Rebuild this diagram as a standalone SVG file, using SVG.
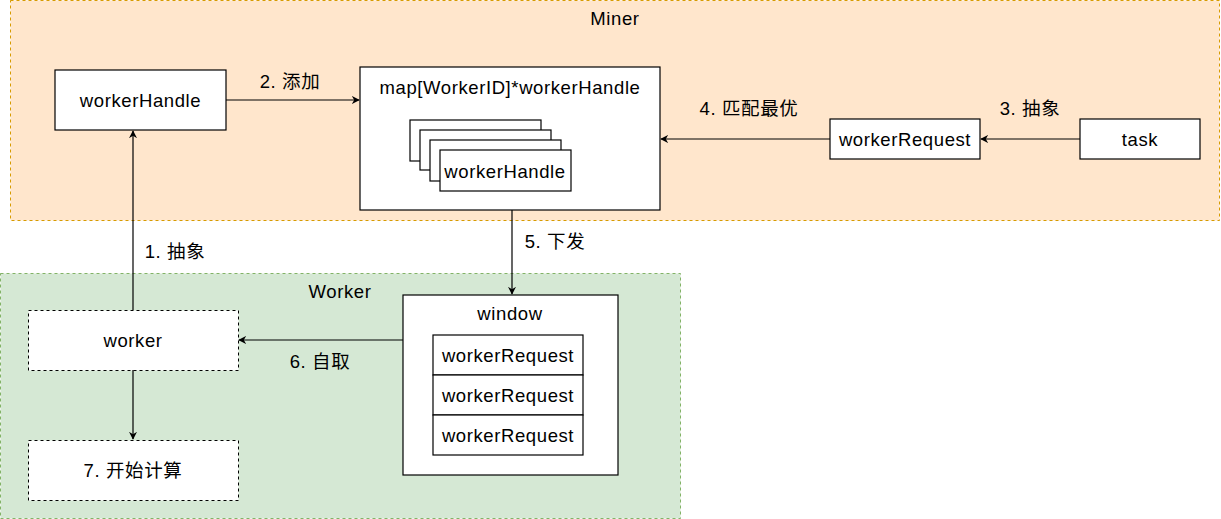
<svg xmlns="http://www.w3.org/2000/svg" width="1221" height="519" viewBox="0 0 1221 519">
<style>
text{font-family:"Liberation Sans","Noto Sans CJK SC",sans-serif;font-size:18.5px;fill:#000;text-anchor:middle;dominant-baseline:central;letter-spacing:0.6px}
.box{fill:#fff;stroke:#000;stroke-width:1.2}
.dbox{fill:#fff;stroke:#000;stroke-width:1;stroke-dasharray:3 3}
.edge{fill:none;stroke:#000;stroke-width:1.2}
</style>
<defs>
<marker id="arr" viewBox="0 0 10 10" refX="9" refY="5" markerWidth="8" markerHeight="8" markerUnits="userSpaceOnUse" orient="auto">
<path d="M0,0 L10,5 L0,10 L3,5 Z" fill="#000"/>
</marker>
</defs>
<g id="miner">
<rect x="10.5" y="0.5" width="1209" height="220" fill="#ffe6cc" stroke="#d79b00" stroke-dasharray="3 3"/>
<text x="615" y="18">Miner</text>
</g>
<g id="worker-group">
<rect x="0.5" y="273.5" width="680" height="245" fill="#d5e8d4" stroke="#82b366" stroke-dasharray="3 3"/>
<text x="340" y="291">Worker</text>
</g>
<g id="workerHandle">
<rect class="box" x="55" y="70" width="171" height="60"/>
<text x="140.5" y="100">workerHandle</text>
</g>
<g id="map">
<rect class="box" x="360" y="67" width="300" height="143"/>
<text x="510" y="87">map[WorkerID]*workerHandle</text>
<rect class="box" x="410" y="120" width="131" height="41"/>
<rect class="box" x="420" y="130" width="131" height="40"/>
<rect class="box" x="430" y="140" width="131" height="41"/>
<rect class="box" x="440" y="150" width="131" height="41"/>
<text x="505" y="171">workerHandle</text>
</g>
<g id="workerRequest">
<rect class="box" x="830" y="119" width="150" height="40"/>
<text x="905" y="139">workerRequest</text>
</g>
<g id="task">
<rect class="box" x="1080" y="119" width="120" height="40"/>
<text x="1140" y="139">task</text>
</g>
<g id="worker">
<rect class="dbox" x="28.5" y="310.5" width="210" height="60"/>
<text x="133" y="340">worker</text>
</g>
<g id="compute">
<rect class="dbox" x="28.5" y="440.5" width="210" height="60"/>
<text x="133" y="470">7. 开始计算</text>
</g>
<g id="window">
<rect class="box" x="403" y="295" width="215" height="180"/>
<text x="510" y="313">window</text>
<rect class="box" x="433" y="335" width="150" height="40"/>
<rect class="box" x="433" y="375" width="150" height="40"/>
<rect class="box" x="433" y="415" width="150" height="40"/>
<text x="508" y="355">workerRequest</text>
<text x="508" y="395">workerRequest</text>
<text x="508" y="435">workerRequest</text>
</g>
<g id="connectors">
<path class="edge" d="M226,100 H359" marker-end="url(#arr)"/>
<text x="290" y="81">2. 添加</text>
<path class="edge" d="M1080,139 H981" marker-end="url(#arr)"/>
<text x="1030" y="108">3. 抽象</text>
<path class="edge" d="M830,139 H661" marker-end="url(#arr)"/>
<text x="749" y="108">4. 匹配最优</text>
<path class="edge" d="M512,210 V294" marker-end="url(#arr)"/>
<text x="555" y="241">5. 下发</text>
<path class="edge" d="M403,340 H239" marker-end="url(#arr)"/>
<text x="320" y="361">6. 自取</text>
<path class="edge" d="M133,310 V131" marker-end="url(#arr)"/>
<text x="175" y="251">1. 抽象</text>
<path class="edge" d="M133,370 V439" marker-end="url(#arr)"/>
</g>
</svg>
